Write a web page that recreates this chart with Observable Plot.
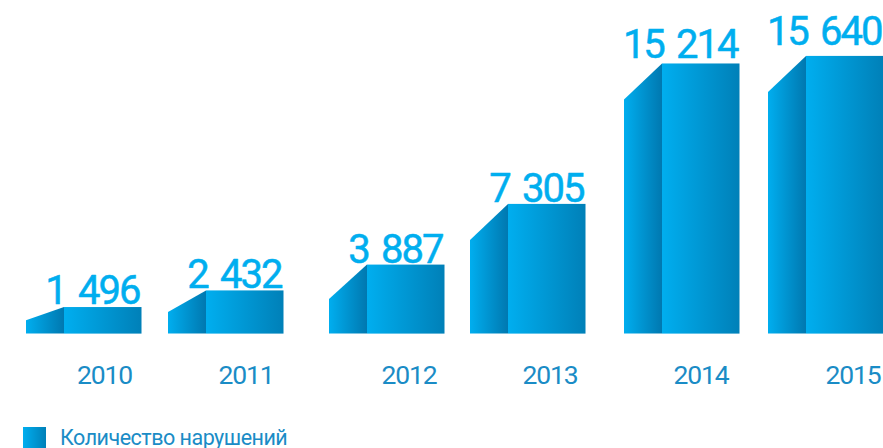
<!DOCTYPE html>
<html lang="ru">
<head>
<meta charset="utf-8">
<script src="https://cdn.jsdelivr.net/npm/d3@7"></script>
<script src="https://cdn.jsdelivr.net/npm/@observablehq/plot@0.6"></script>
<style>
  html, body { margin: 0; padding: 0; background: #fff; width: 883px; height: 448px; overflow: hidden; }
  #chart svg { display: block; }
  #chart text.val { letter-spacing: -2px; word-spacing: 4.3px; }
  #chart text.yr { letter-spacing: -1.2px; }
  #legend { position: relative; height: 23px; overflow: hidden; }
  #legend i { position: absolute; left: 23px; top: 2px; width: 23px; height: 23px;
    background: linear-gradient(90deg, #00aeef, #0080b8); }
  #legend span { position: absolute; left: 60px; top: 3px; font: 21.5px/20px Roboto, sans-serif;
    letter-spacing: -.5px; color: #1a8cc6; white-space: nowrap; }
</style>
</head>
<body>
<div id="chart"></div>
<div id="legend"><i></i><span>Количество нарушений</span></div>
<script>
const years = [2010, 2011, 2012, 2013, 2014, 2015];
const violations = [1496, 2432, 3887, 7305, 15214, 15640];
const seriesName = "Количество нарушений";

// Layout of the uneven columns, expressed as scale configuration
const frontLeftPx = [64, 206, 367, 508, 662, 806];
const sideWidthPx = 38, frontWidthPx = 77.5, slantCapPx = 36;
const labelCenterPx = [104, 245.5, 408.5, 549.5, 700.5, 852.5];
const labelLiftPx = [3.5, 2.5, 2, 2.3, 5.5, 11];

const W = 883, H = 425;
const valueFontSize = 40;
const xOpts = {type: "linear", domain: years, range: frontLeftPx};
const yOpts = {domain: [0, 18789], range: [333.6, 0]};
const xs = d3.scaleLinear().domain(years).range(frontLeftPx);
const ys = d3.scaleLinear().domain(yOpts.domain).range(yOpts.range);
const pxPerUnit = ys(0) - ys(1);
const shift = (year, px) => xs.invert(xs(year) + px);

const bars = years.map((year, i) => ({
  year, value: violations[i], x1: year, x2: shift(year, frontWidthPx),
  side: shift(year, -sideWidthPx),
  drop: Math.min(slantCapPx / pxPerUnit, violations[i] / 2),
  labelX: xs.invert(labelCenterPx[i]),
  labelY: violations[i] + labelLiftPx[i] / pxPerUnit
}));
const sideRows = bars.flatMap(d => [
  {year: d.year, x: d.side, y2: d.value - d.drop},
  {year: d.year, x: d.x1, y2: d.value}
]);

const fmt = d3.formatLocale({decimal: ",", thousands: " ", grouping: [3], currency: ["", ""]}).format(",");

const gradients = () => {
  const g = document.createElementNS("http://www.w3.org/2000/svg", "g");
  g.innerHTML = `<defs>
    <linearGradient id="front" x1="0" x2="1" y1="0" y2="0"><stop offset="0" stop-color="#00aeef"/><stop offset="1" stop-color="#0080b8"/></linearGradient>
    <linearGradient id="sideFace" x1="0" x2="1" y1="0" y2="0"><stop offset="0" stop-color="#00aeef"/><stop offset="1" stop-color="#0078b0"/></linearGradient>
  </defs>`;
  return g;
};

const tagged = (cls) => (index, scales, values, dimensions, context, next) => {
  const g = next(index, scales, values, dimensions, context);
  g.querySelectorAll("text").forEach(t => t.setAttribute("class", cls));
  return g;
};

const plot = Plot.plot({
  width: W, height: H,
  marginTop: 0, marginRight: 0, marginBottom: 0, marginLeft: 0,
  x: {...xOpts, axis: null},
  y: {...yOpts, axis: null},
  style: {background: "transparent"},
  marks: [
    gradients,
    Plot.area(sideRows, {x1: "x", y1: 0, y2: "y2", z: "year", fill: "url(#sideFace)", title: () => seriesName}),
    Plot.rect(bars, {x1: "x1", x2: "x2", y1: 0, y2: "value", fill: "url(#front)"}),
    Plot.text(bars, {
      x: "x2", y: "labelY", text: d => fmt(d.value), textAnchor: "end",
      dx: -2.5, dy: -0.32 * valueFontSize,
      fill: "#00aeef", stroke: "#00aeef", strokeWidth: 0.5,
      fontSize: valueFontSize, fontWeight: 400, fontFamily: "Roboto, sans-serif",
      render: tagged("val")
    }),
    Plot.text(bars, {
      x: "labelX", y: 0, text: d => String(d.year), dy: 41.5,
      fill: "#1a8cc6", fontSize: 26.5, fontFamily: "Roboto, sans-serif",
      render: tagged("yr")
    })
  ]
});
document.getElementById("chart").append(plot);
</script>
</body>
</html>
